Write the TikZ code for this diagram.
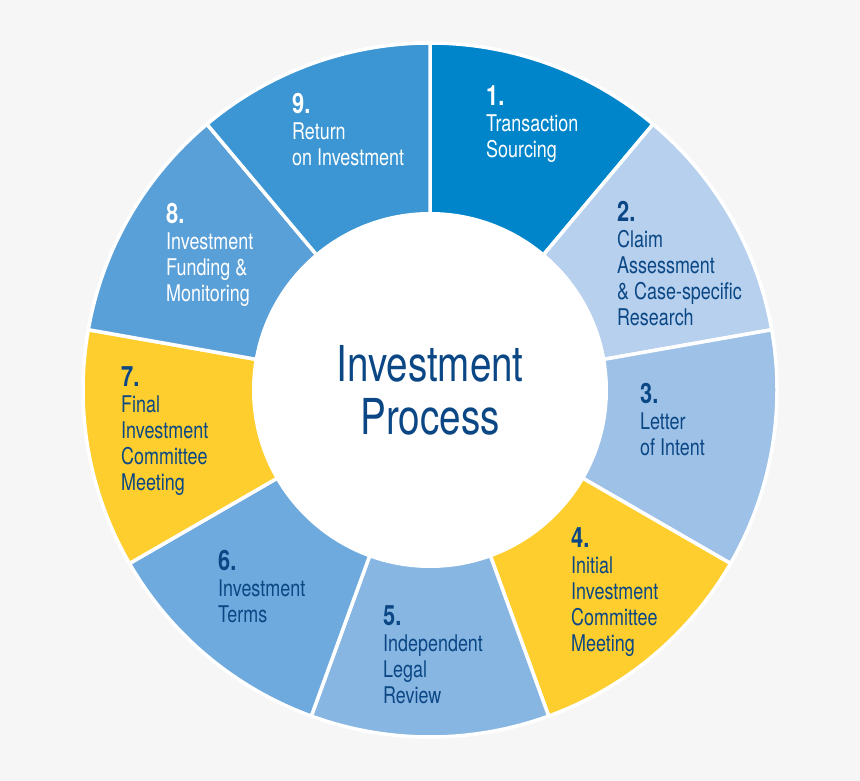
\documentclass[tikz,border=0pt]{standalone}
\usepackage{fontspec}
\setmainfont[FakeStretch=0.78]{TeX Gyre Heros}
\usetikzlibrary{calc}
\definecolor{bgc}{HTML}{F6F6F6}
\definecolor{sa}{HTML}{0085CA}
\definecolor{sb}{HTML}{B6D0EE}
\definecolor{sc}{HTML}{9EC1E7}
\definecolor{sd}{HTML}{FECE2F}
\definecolor{se}{HTML}{88B6E2}
\definecolor{sf}{HTML}{6EAADD}
\definecolor{sg}{HTML}{FECE2F}
\definecolor{sh}{HTML}{5AA0D8}
\definecolor{si}{HTML}{3B96D3}
\definecolor{darktxt}{HTML}{0A4784}
\newcommand{\numf}[1]{{\bfseries\fontsize{28}{26}\selectfont #1}}
\tikzset{
  lbl/.style={anchor=north west, inner sep=0pt, align=left, text=darktxt,
    font=\fontsize{23}{26}\selectfont},
  lblw/.style={lbl, text=white},
  segment/.style={draw=white, line width=3.5pt, line join=round},
}
\begin{document}
\begin{tikzpicture}[x=1pt,y=1pt]
\fill[bgc] (0,0) rectangle (860,781);
\useasboundingbox (0,0) rectangle (860,781);
\coordinate (c) at (430,391);
\foreach \i/\col in {1/sa,2/sb,3/sc,4/sd,5/se,6/sf,7/sg,8/sh,9/si} {
  \pgfmathsetmacro\a{90-40*(\i-1)}
  \pgfmathsetmacro\b{\a-40}
  \filldraw[segment, fill=\col] (c) -- ([shift={(\a:347)}]c)
     arc[start angle=\a, end angle=\b, radius=347] -- cycle;
}
\node[circle, fill=white, minimum size=356pt, inner sep=0pt, align=center,
      text=darktxt, font=\fontsize{49.5}{53}\selectfont] (hub) at (c)
      {Investment\\Process};
\node[lblw] (s1) at (486, 695.5) {\numf{1.}\\Transaction\\Sourcing};
\node[lbl]  (s2) at (617, 579.5) {\numf{2.}\\Claim\\Assessment\\\& Case-specific\\Research};
\node[lbl]  (s3) at (640, 397.5) {\numf{3.}\\Letter\\of Intent};
\node[lbl]  (s4) at (571, 253.5) {\numf{4.}\\Initial\\Investment\\Committee\\Meeting};
\node[lbl]  (s5) at (383, 175.5) {\numf{5.}\\Independent\\Legal\\Review};
\node[lbl]  (s6) at (218, 230.5) {\numf{6.}\\Investment\\Terms};
\node[lbl]  (s7) at (121, 414.5) {\numf{7.}\\Final\\Investment\\Committee\\Meeting};
\node[lblw] (s8) at (166, 577.5) {\numf{8.}\\Investment\\Funding \&\\Monitoring};
\node[lblw] (s9) at (292, 687.5) {\numf{9.}\\Return\\on Investment};
\end{tikzpicture}
\end{document}
